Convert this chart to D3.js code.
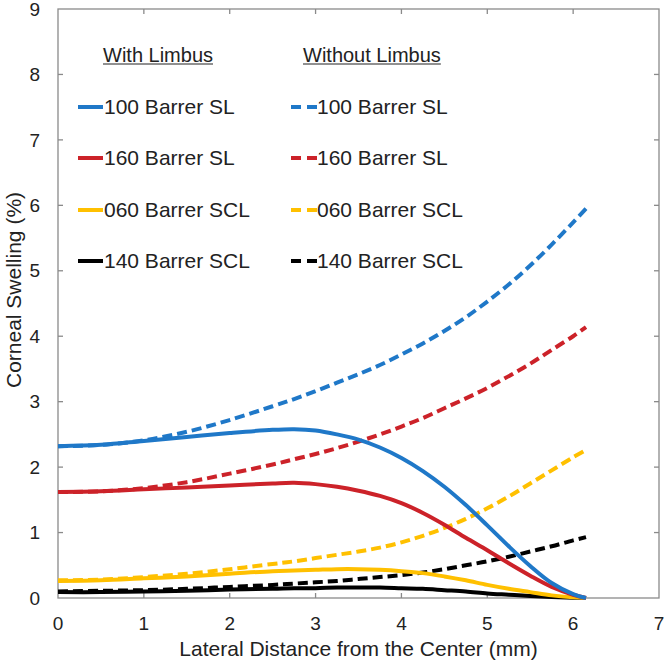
<!DOCTYPE html>
<html>
<head>
<meta charset="utf-8">
<script src="https://cdn.jsdelivr.net/npm/d3@7"></script>
<style>
  html, body { margin: 0; padding: 0; background: #fff; }
  svg { display: block; font-family: "Liberation Sans", Arial, sans-serif; }
</style>
</head>
<body>
<svg id="chart" width="666" height="662"></svg>
<script>
// ---- data ----
const xGrid = [0, 0.5, 1, 1.5, 2, 2.5, 2.75, 3, 3.25, 3.5, 3.75, 4, 4.25, 4.5, 4.75, 5, 5.25, 5.5, 5.75, 6, 6.15];

const sl100With    = [2.32, 2.34, 2.40, 2.46, 2.52, 2.57, 2.58, 2.56, 2.50, 2.42, 2.30, 2.14, 1.94, 1.70, 1.42, 1.11, 0.79, 0.49, 0.23, 0.06, 0];
const sl160With    = [1.62, 1.63, 1.66, 1.69, 1.72, 1.75, 1.76, 1.74, 1.70, 1.64, 1.56, 1.45, 1.30, 1.12, 0.92, 0.73, 0.53, 0.34, 0.17, 0.05, 0];
const scl060With   = [0.26, 0.27, 0.30, 0.33, 0.37, 0.41, 0.42, 0.43, 0.44, 0.44, 0.43, 0.41, 0.38, 0.33, 0.27, 0.20, 0.14, 0.09, 0.04, 0.01, 0];
const scl140With   = [0.09, 0.09, 0.10, 0.11, 0.13, 0.14, 0.15, 0.15, 0.16, 0.16, 0.16, 0.15, 0.14, 0.12, 0.10, 0.07, 0.05, 0.03, 0.015, 0.005, 0];

const sl100Without  = [2.32, 2.34, 2.41, 2.54, 2.72, 2.93, 3.04, 3.16, 3.29, 3.42, 3.56, 3.72, 3.89, 4.08, 4.29, 4.53, 4.79, 5.08, 5.40, 5.74, 5.95];
const sl160Without  = [1.62, 1.63, 1.68, 1.77, 1.90, 2.04, 2.12, 2.20, 2.29, 2.39, 2.50, 2.62, 2.75, 2.90, 3.05, 3.21, 3.39, 3.58, 3.79, 4.00, 4.14];
const scl060Without = [0.27, 0.28, 0.32, 0.37, 0.44, 0.52, 0.56, 0.61, 0.66, 0.71, 0.77, 0.85, 0.95, 1.07, 1.21, 1.37, 1.55, 1.75, 1.95, 2.15, 2.26];
const scl140Without = [0.10, 0.11, 0.12, 0.14, 0.17, 0.20, 0.22, 0.24, 0.26, 0.29, 0.32, 0.35, 0.39, 0.44, 0.50, 0.56, 0.63, 0.71, 0.79, 0.88, 0.93];

const legendLabels = ["100 Barrer SL", "160 Barrer SL", "060 Barrer SCL", "140 Barrer SCL"];
const legendHeaders = ["With Limbus", "Without Limbus"];
const seriesColors = ["#1f78c8", "#cc2229", "#ffc000", "#000000"];
const withSeries = [sl100With, sl160With, scl060With, scl140With];
const withoutSeries = [sl100Without, sl160Without, scl060Without, scl140Without];

const xTicks = [0, 1, 2, 3, 4, 5, 6, 7];
const yTicks = [0, 1, 2, 3, 4, 5, 6, 7, 8, 9];
const xTitle = "Lateral Distance from the Center (mm)";
const yTitle = "Corneal Swelling (%)";

// ---- layout ----
const svg = d3.select("#chart");
const pLeft = 58, pRight = 659, pTop = 9, pBottom = 598;
const x = d3.scaleLinear().domain([0, 7]).range([pLeft, pRight]);
const y = d3.scaleLinear().domain([0, 9]).range([pBottom, pTop]);
const frameColor = "#8a8a8a";
const tickLen = 5;

// frame
svg.append("rect")
  .attr("x", pLeft).attr("y", pTop)
  .attr("width", pRight - pLeft).attr("height", pBottom - pTop)
  .attr("fill", "none").attr("stroke", frameColor).attr("stroke-width", 1.3);

// ticks (inside, all four sides)
const tickG = svg.append("g").attr("stroke", frameColor).attr("stroke-width", 1.3);
xTicks.slice(1, -1).forEach(t => {
  tickG.append("line").attr("x1", x(t)).attr("x2", x(t)).attr("y1", pBottom).attr("y2", pBottom - tickLen);
  tickG.append("line").attr("x1", x(t)).attr("x2", x(t)).attr("y1", pTop).attr("y2", pTop + tickLen);
});
yTicks.slice(1, -1).forEach(t => {
  tickG.append("line").attr("x1", pLeft).attr("x2", pLeft + tickLen).attr("y1", y(t)).attr("y2", y(t));
  tickG.append("line").attr("x1", pRight).attr("x2", pRight - tickLen).attr("y1", y(t)).attr("y2", y(t));
});

// tick labels
svg.append("g").selectAll("text").data(xTicks).join("text")
  .attr("x", d => x(d)).attr("y", 623).attr("dy", "0.35em")
  .attr("text-anchor", "middle").attr("font-size", 19).attr("fill", "#222")
  .text(d => d);
svg.append("g").selectAll("text").data(yTicks).join("text")
  .attr("x", 40).attr("y", d => y(d)).attr("dy", "0.35em")
  .attr("text-anchor", "end").attr("font-size", 19).attr("fill", "#222")
  .text(d => d);

// axis titles
svg.append("text").attr("x", (pLeft + pRight) / 2).attr("y", 649).attr("dy", "0.35em")
  .attr("text-anchor", "middle").attr("font-size", 21).attr("fill", "#222").text(xTitle);
svg.append("text").attr("transform", "translate(14,290) rotate(-90)").attr("dy", "0.35em")
  .attr("text-anchor", "middle").attr("font-size", 21).attr("fill", "#222").text(yTitle);

// lines
const line = d3.line().x((d, i) => x(xGrid[i])).y(d => y(d)).curve(d3.curveCatmullRom.alpha(0.5));
const plotG = svg.append("g");
[3, 2, 1, 0].forEach(i => {
  plotG.append("path").attr("d", line(withoutSeries[i])).attr("fill", "none")
    .attr("stroke", seriesColors[i]).attr("stroke-width", 4).attr("stroke-dasharray", "10,5");
});
[3, 2, 1, 0].forEach(i => {
  plotG.append("path").attr("d", line(withSeries[i])).attr("fill", "none")
    .attr("stroke", seriesColors[i]).attr("stroke-width", 4);
});

// legend
const legG = svg.append("g");
const headerX = [103, 303];
legendHeaders.forEach((h, j) => {
  const t = legG.append("text").attr("x", headerX[j]).attr("y", 55).attr("dy", "0.35em")
    .attr("font-size", 20).attr("fill", "#222").text(h);
  const w = t.node().getComputedTextLength();
  legG.append("line").attr("x1", headerX[j]).attr("x2", headerX[j] + w)
    .attr("y1", 64).attr("y2", 64).attr("stroke", "#222").attr("stroke-width", 1.2);
});
const rowY = [107, 158, 210, 261];
legendLabels.forEach((lab, i) => {
  legG.append("line").attr("x1", 78).attr("x2", 103).attr("y1", rowY[i]).attr("y2", rowY[i])
    .attr("stroke", seriesColors[i]).attr("stroke-width", 4);
  legG.append("text").attr("x", 104).attr("y", rowY[i]).attr("dy", "0.35em")
    .attr("font-size", 21).attr("fill", "#222").text(lab);
  legG.append("line").attr("x1", 291).attr("x2", 317).attr("y1", rowY[i]).attr("y2", rowY[i])
    .attr("stroke", seriesColors[i]).attr("stroke-width", 4).attr("stroke-dasharray", "10,6");
  legG.append("text").attr("x", 317).attr("y", rowY[i]).attr("dy", "0.35em")
    .attr("font-size", 21).attr("fill", "#222").text(lab);
});
</script>
</body>
</html>
